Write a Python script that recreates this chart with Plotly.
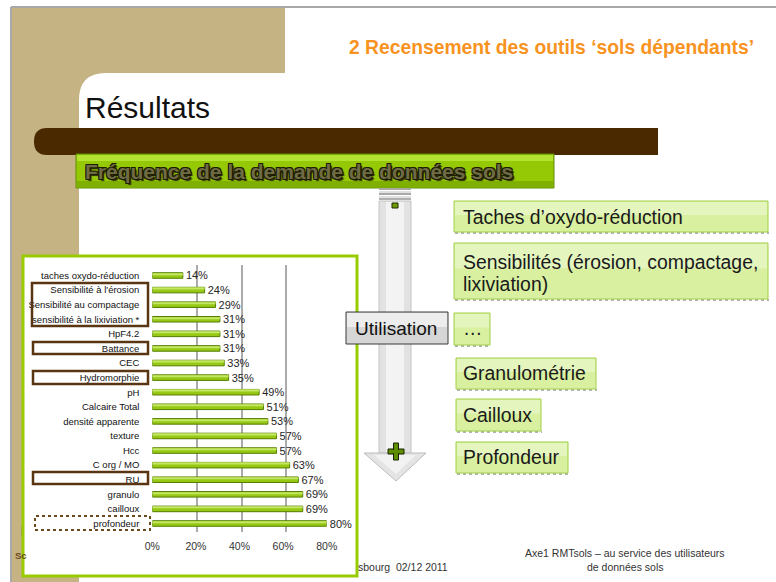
import plotly.graph_objects as go

# ---------------- data ----------------
categories = ["taches oxydo-réduction", "Sensibilité à l'érosion", "Sensibilité au compactage",
              "sensibilité à la lixiviation *", "HpF4.2", "Battance", "CEC", "Hydromorphie",
              "pH", "Calcaire Total", "densité apparente", "texture", "Hcc", "C org / MO",
              "RU", "granulo", "cailloux", "profondeur"]
values = [14, 24, 29, 31, 31, 31, 33, 35, 49, 51, 53, 57, 57, 63, 67, 69, 69, 80]
value_labels = ["14%", "24%", "29%", "31%", "31%", "31%", "33%", "35%", "49%", "51%",
                "53%", "57%", "57%", "63%", "67%", "69%", "69%", "80%"]
tick_values = [0, 20, 40, 60, 80]
tick_labels = ["0%", "20%", "40%", "60%", "80%"]

slide_title = "2 Recensement des outils ‘sols dépendants’"
heading = "Résultats"
banner = "Fréquence de la demande de données sols"
usage_items = ["Taches d’oxydo-réduction", "Sensibilités (érosion, compactage,", "lixiviation)",
               "…", "Granulométrie", "Cailloux", "Profondeur"]
footer_center = ["Axe1 RMTsols – au service des utilisateurs", "de données sols"]
footer_left = "sbourg  02/12 2011"

W, H = 776, 582
FONT = "Liberation Sans, Arial, sans-serif"


def X(x):
    return x / W


def Y(y):
    return 1 - y / H


shapes = []
annotations = []


def rect(x0, y0, x1, y1, fill, line=None, width=0, dash="solid", layer="below"):
    shapes.append(dict(type="rect", xref="paper", yref="paper",
                       x0=X(x0), x1=X(x1), y0=Y(y1), y1=Y(y0),
                       fillcolor=fill, layer=layer,
                       line=dict(color=line if line else "rgba(0,0,0,0)", width=width, dash=dash)))


def seg(x0, y0, x1, y1, color, width=1, layer="below", dash="solid"):
    shapes.append(dict(type="line", xref="paper", yref="paper",
                       x0=X(x0), x1=X(x1), y0=Y(y0), y1=Y(y1), layer=layer,
                       line=dict(color=color, width=width, dash=dash)))


def path(cmds, fill, line=None, width=0, layer="below"):
    out = []
    for c in cmds:
        if isinstance(c, str):
            out.append(c)
        else:
            out.append(f"{X(c[0]):.5f},{Y(c[1]):.5f}")
    shapes.append(dict(type="path", xref="paper", yref="paper", path=" ".join(out),
                       fillcolor=fill, layer=layer,
                       line=dict(color=line if line else "rgba(0,0,0,0)", width=width)))


def text(x, y, s, size, color="#1a1a1a", xanchor="left", weight="normal", shadow=None):
    f = dict(family=FONT, size=size, color=color, weight=weight)
    if shadow:
        f["shadow"] = shadow
    annotations.append(dict(xref="paper", yref="paper", x=X(x), y=Y(y), text=s,
                            showarrow=False, xanchor=xanchor, yanchor="middle", font=f,
                            borderpad=0))


# ---------------- slide background ----------------
TAN = "#C5B383"
seg(11, 7, 776, 7, "#A8A8A8", 2)
seg(11, 7, 11, 582, "#A8A8A8", 2)
rect(12, 8, 285, 73, TAN)
rect(12, 8, 79, 582, TAN)
path(["M", (79, 73), "L", (106, 73), "Q", (79, 73), (79, 100), "Z"], TAN)

# brown bar
path(["M", (47, 128), "L", (658, 128), "L", (658, 155), "L", (47, 155),
      "Q", (34, 155), (34, 141.5), "Q", (34, 128), (47, 128), "Z"], "#4A2800")

# green banner
rect(76, 154, 554, 188, "#95C805", "#5F8E00", 1)
rect(77, 155, 553, 161, "#B4E230")
rect(77, 181, 553, 187, "#7FB000")

# ---------------- chart box ----------------
seg(22, 526, 22, 536, "#8B7355", 1)
rect(23, 256, 357, 576, "white", "#99CC00", 3)

# brown label frames (above)
BR = "#5A3511"
rect(32, 283, 148, 326, "rgba(0,0,0,0)", BR, 2.5, layer="above")
rect(33, 342, 148, 354, "rgba(0,0,0,0)", BR, 2.5, layer="above")
rect(33, 371, 148, 384, "rgba(0,0,0,0)", BR, 2.5, layer="above")
rect(33, 472, 148, 484, "rgba(0,0,0,0)", BR, 2.5, layer="above")
rect(35, 516, 150, 530, "rgba(0,0,0,0)", "#6B4A1E", 2, dash="dot", layer="above")

# ---------------- arrow ----------------
for yy, c in [(189, "#A9A9A9"), (192, "#E0E0E0"), (194, "#A9A9A9"), (197, "#E0E0E0"), (199, "#B0B0B0")]:
    seg(379, yy, 411, yy, c, 2)
rect(379, 201, 411, 453, "#E2E2E2", "#C4C4C4", 1)
rect(386, 202, 404, 452, "#F3F3F3")
path(["M", (364, 453), "L", (426, 453), "L", (396, 481), "Z"], "#E4E4E4", "#BDBDBD", 1)
path(["M", (374, 455), "L", (416, 455), "L", (396, 474), "Z"], "#F2F2F2")
# minus / plus
rect(392, 203, 398, 208, "#6E9C00", "#1F2A00", 1)
rect(388, 449, 404, 454, "#5E8E00", "#1A2400", 1)
rect(393.5, 443, 398.5, 460, "#5E8E00", "#1A2400", 1)
rect(389, 450, 403, 453, "#5E8E00")

# Utilisation box
rect(346, 312, 448, 344, "#D6D6D6", "#3A3A3A", 1)
rect(347, 313, 447, 327, "#EDEDED")

# right-hand boxes
GF, GL = "#D8F0A0", "#A2D048"
boxes = [(454, 201, 768, 232), (454, 243, 768, 299), (454, 313, 490, 345),
         (456, 358, 596, 389), (456, 399, 541, 431), (456, 442, 568, 473)]
for (a, b, c, d) in boxes:
    seg(a + 1, d + 1, c + 1, d + 1, "#9A9A9A", 1.5, dash="dot")
    rect(a, b, c, d, GF, GL, 1)
    rect(a + 1, b + 1, c - 1, b + (d - b) * 0.45, "#E4F5BE")

# ---------------- texts ----------------
BOX_FS = 19.4
text(348, 47, slide_title, 19.3, "#F7931E", weight="bold")
text(84, 107, heading, 30, "#111111")
text(84, 171, banner, 21, "#6E6B45", weight="bold",
     shadow="-1px -1px 0 #1c1c00, 1px -1px 0 #1c1c00, -1px 1px 0 #1c1c00, 1px 1px 0 #1c1c00, 2px 2px 1px #2a2a10")
text(396, 328, "Utilisation", 19, "#111111", xanchor="center")
text(462, 217, usage_items[0], BOX_FS)
text(462, 262, usage_items[1], BOX_FS)
text(462, 284, usage_items[2], BOX_FS)
text(462, 328, usage_items[3], BOX_FS)
text(462, 373, usage_items[4], BOX_FS)
text(462, 415, usage_items[5], BOX_FS)
text(462, 457, usage_items[6], BOX_FS)
text(625, 553, footer_center[0], 10.5, "#333333", xanchor="center")
text(625, 567, footer_center[1], 10.5, "#333333", xanchor="center")
text(357, 567, footer_left, 10.5, "#333333")
text(14, 555, "Sc", 9.5, "#6B4A1E", weight="bold")

# ---------------- traces ----------------
fig = go.Figure()
# back-wall grid subplot (x / y)
fig.add_trace(go.Scatter(x=[], y=[], xaxis="x", yaxis="y", showlegend=False, hoverinfo="skip"))
# bars subplot (x2 / y2)
fig.add_trace(go.Bar(
    x=values, y=categories, orientation="h", xaxis="x2", yaxis="y2",
    marker=dict(color="#96C814", line=dict(color="#557D00", width=1)),
    width=0.38, offset=-0.19, text=value_labels, texttemplate=" %{text}", textposition="outside",
    constraintext="none",
    textfont=dict(family=FONT, size=11, color="#262626"), cliponaxis=False,
    showlegend=False, hoverinfo="skip"))
# light top highlight of the 3-D bars
fig.add_trace(go.Bar(
    x=values, y=categories, orientation="h", xaxis="x2", yaxis="y2",
    marker=dict(color="#C4E764", line=dict(width=0)),
    width=0.1, offset=-0.14, showlegend=False, hoverinfo="skip"))

fig.update_layout(
    template="none", autosize=False, barmode="overlay",
    width=W, height=H, margin=dict(l=0, r=0, t=0, b=0, pad=0, autoexpand=False),
    paper_bgcolor="white", plot_bgcolor="rgba(0,0,0,0)",
    shapes=shapes, annotations=annotations, showlegend=False,
    xaxis=dict(domain=[153 / W, 330 / W], range=[0, 80], tickvals=tick_values,
               showticklabels=False, showgrid=True, gridcolor="#ABABAB", gridwidth=1.5,
               zeroline=False, showline=False, anchor="y", fixedrange=True, automargin=False),
    yaxis=dict(domain=[1 - 532 / H, 1 - 265 / H], range=[0, 1], visible=False,
               anchor="x", fixedrange=True, automargin=False),
    xaxis2=dict(domain=[152.3 / W, 326.7 / W], range=[0, 80], tickvals=tick_values,
                ticktext=tick_labels, showgrid=False, zeroline=False, showline=False,
                ticks="", ticklabelstandoff=8, anchor="y2", automargin=False,
                tickfont=dict(family=FONT, size=10.5, color="#333333"), fixedrange=True),
    yaxis2=dict(domain=[1 - 530.8 / H, 1 - 268.2 / H], type="category",
                categoryorder="array", categoryarray=categories,
                range=[len(categories) - 0.5, -0.5], showgrid=False, zeroline=False,
                showline=False, ticks="", ticklabelstandoff=12, anchor="x2", automargin=False,
                tickfont=dict(family=FONT, size=9.5, color="#111111"), fixedrange=True),
)

fig.write_html("out.html", config={"displayModeBar": False},
               post_script="document.body.style.margin='0px';document.body.style.overflow='hidden';")
